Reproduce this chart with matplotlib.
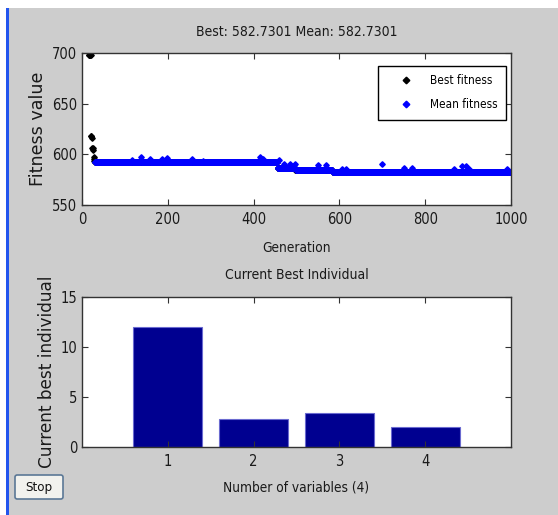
import matplotlib
matplotlib.use("Agg")
import matplotlib.pyplot as plt
import numpy as np
from matplotlib.patches import Rectangle, FancyBboxPatch

best_gen_start = [16, 21, 23, 24, 26, 27, 28, 29, 30, 456, 462, 497, 584]
best_values = [698, 618, 616, 606, 604, 597, 595, 593, 592.2, 587.0, 586.4, 584.4, 582.7301]
last_gen = 1000

# mean fitness follows the best level from generation 30, with these bumps
mean_first_gen = 30
mean_spike_gen = [116, 137, 159, 186, 197, 257, 282, 414, 423, 460, 472, 485, 497,
                  551, 568, 605, 615, 700, 751, 770, 866, 886, 895, 903, 990]
mean_spike_val = [594, 597, 595, 595, 596, 595, 593, 597, 595, 594, 590, 590, 590,
                  589, 589, 585.5, 585.5, 590, 587, 587, 585.5, 588, 588, 585.5, 586]

variables = [1, 2, 3, 4]
best_individual = [12.0, 2.85, 3.45, 1.98]

title_top = "Best: 582.7301 Mean: 582.7301"
title_bottom = "Current Best Individual"

plt.rcParams["font.family"] = ["DejaVu Sans"]
plt.rcParams["font.stretch"] = "condensed"
txt_color = "#1a1a1a"

W, H = 558, 515
fig = plt.figure(figsize=(W / 100, H / 100), dpi=100, facecolor="white")

# gray window panel + blue edge on the left
fig.patches.append(Rectangle((9 / W, 0), 1 - 9 / W, (H - 8) / H, transform=fig.transFigure,
                             facecolor="#cdcdcd", edgecolor="none", zorder=-2))
fig.patches.append(Rectangle((6 / W, 0), 3 / W, (H - 8) / H, transform=fig.transFigure,
                             facecolor="#2255ee", edgecolor="none", zorder=-2))


def px_axes(left, top, right, bottom):
    return fig.add_axes([left / W, 1 - bottom / H, (right - left) / W, (bottom - top) / H])


def style(ax):
    ax.set_facecolor("white")
    for s in ax.spines.values():
        s.set_color("#333333")
        s.set_linewidth(1.0)
    ax.tick_params(direction="in", top=True, right=True, length=4, width=0.8,
                   color="#333333", labelsize=10.5, labelcolor=txt_color)
    ax.tick_params(axis="x", pad=5)
    ax.tick_params(axis="y", pad=3.5)


# ---- top: fitness per generation
ax1 = px_axes(82, 53, 511, 205)
style(ax1)

gens = np.arange(best_gen_start[0], last_gen + 1)
best = np.repeat(best_values, np.diff(best_gen_start + [last_gen + 1]))
mean_gens = gens[gens >= mean_first_gen]
mean = best[gens >= mean_first_gen].copy()
for g, v in zip(mean_spike_gen, mean_spike_val):
    mean[mean_gens == g] = v

ax1.plot(gens, best, ls="none", marker="D", ms=2.8, color="black", label="Best fitness")
ax1.plot(mean_gens, mean, ls="none", marker="D", ms=2.8, color="blue", label="Mean fitness")
ax1.set_xlim(0, 1000)
ax1.set_ylim(550, 700)
ax1.set_xticks(range(0, 1001, 200))
ax1.set_yticks([550, 600, 650, 700])

ax1.text(0.5, 1.135, title_top, transform=ax1.transAxes, ha="center", va="center",
         fontsize=10, color=txt_color)
ax1.set_xlabel("Generation", fontsize=9.8, color=txt_color, va="center")
ax1.xaxis.set_label_coords(0.5, -0.283)
ax1.set_ylabel("Fitness value", fontsize=12.6, color=txt_color, va="center",
               fontstretch="normal")
ax1.yaxis.set_label_coords(-0.1026, 0.5)

leg = ax1.legend(loc="upper right", bbox_to_anchor=(0.988, 0.914), fontsize=8.5,
                 frameon=True, fancybox=False, borderpad=0.7, handlelength=3.3,
                 handletextpad=0.36, labelspacing=0.93, borderaxespad=0, markerscale=1.2)
leg.get_frame().set_edgecolor("black")
leg.get_frame().set_linewidth(1.0)
leg.get_frame().set_alpha(1)

# ---- bottom: current best individual
ax2 = px_axes(82, 297, 511, 447)
style(ax2)
ax2.bar(variables, best_individual, width=0.8, color="#000090", edgecolor="#6a6ad0",
        linewidth=0.8)
ax2.set_xlim(0, 5)
ax2.set_ylim(0, 15)
ax2.set_xticks(variables)
ax2.set_yticks([0, 5, 10, 15])

ax2.text(0.5, 1.147, title_bottom, transform=ax2.transAxes, ha="center", va="center",
         fontsize=10, color=txt_color)
ax2.set_xlabel("Number of variables (4)", fontsize=9.8, color=txt_color, va="center")
ax2.xaxis.set_label_coords(0.5, -0.273)
ax2.set_ylabel("Current best individual", fontsize=12.2, color=txt_color, va="center",
               fontstretch="normal")
ax2.yaxis.set_label_coords(-0.0816, 0.5)

# ---- Stop button
btn = FancyBboxPatch((15 / W, 1 - 499 / H), 48 / W, 24 / H, transform=fig.transFigure,
                     boxstyle="round,pad=0,rounding_size=0.004", facecolor="#f2f2ee",
                     edgecolor="#5b7896", linewidth=1.2)
fig.patches.append(btn)
fig.text(39 / W, 1 - 487 / H, "Stop", ha="center", va="center", fontsize=9.5, color="#111111")

fig.savefig("out.png", dpi=100, facecolor=fig.get_facecolor())
